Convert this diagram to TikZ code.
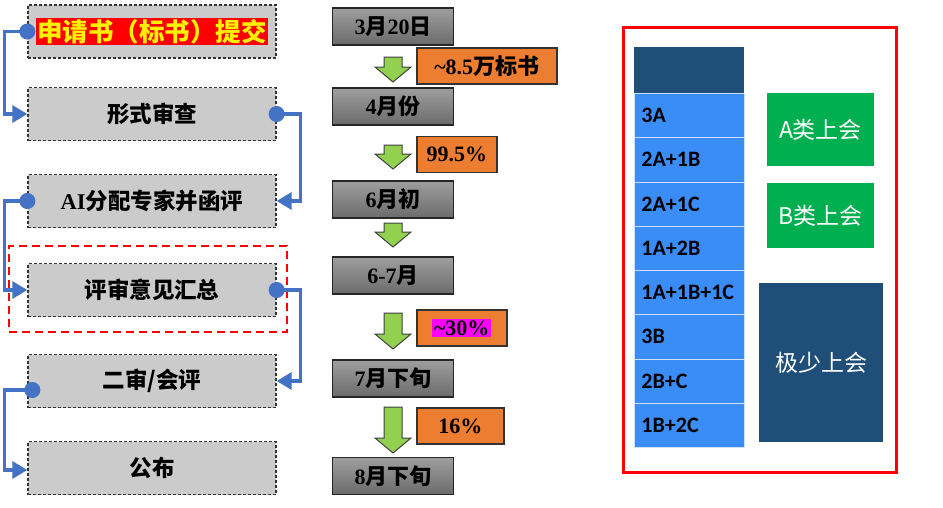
\documentclass[tikz,border=0pt]{standalone}
\usepackage{fontspec}
\setmainfont{Liberation Serif}
\newfontfamily\cjk{Noto Sans CJK SC}
\newfontfamily\calib{Carlito}
\usetikzlibrary{arrows.meta}
\definecolor{linkblue}{HTML}{4472C4}
\definecolor{stagegray}{HTML}{CBCBCB}
\definecolor{ratioorange}{HTML}{ED7D31}
\definecolor{arrowgreen}{HTML}{92D050}
\definecolor{cellblue}{HTML}{3A8CF6}
\definecolor{headblue}{HTML}{1F4E79}
\definecolor{meetgreen}{HTML}{00B050}
\definecolor{hlmagenta}{HTML}{FF00FF}
\newcommand\zh[1]{{\cjk #1}}
\newcommand\flowarrow[2]{%
  \draw [flow_arrow] (384,#1) -- (402,#1) -- (402,#2-15) -- (411,#2-15)
    -- (393,#2) -- (375,#2-15) -- (384,#2-15) -- cycle;}
\tikzset{
  stage_node/.style = {draw=black!80, fill=stagegray, line width=1.3pt,
    dash pattern=on 3pt off 2pt, minimum width=248, minimum height=53,
    font=\cjk\bfseries\fontsize{22.5}{26}\selectfont},% etapes a gauche
  title_hl/.style = {fill=red, text=yellow, inner sep=1pt,
    font=\cjk\bfseries\fontsize{25.5}{28}\selectfont},% titre surligne
  focus_frame/.style = {draw=red, line width=2.5pt, dash pattern=on 8pt off 5pt},
  link/.style = {draw=linkblue, line width=3.5pt, shorten <=-8pt,
    {Circle[length=16pt]}-{Triangle[length=15pt,width=17pt]}},% liaisons bleues
  date_node/.style = {draw=black!85, line width=1.3pt, top color=black!38,
    bottom color=black!58, minimum width=121, minimum height=37,
    font=\bfseries\fontsize{22}{26}\selectfont},% dates
  ratio_node/.style = {draw=black!80, fill=ratioorange, line width=1.5pt,
    anchor=west, minimum height=36, font=\bfseries\fontsize{22}{26}\selectfont},% taux
  flow_arrow/.style = {draw=black!75, fill=arrowgreen, line width=1pt, line join=miter},
  panel_frame/.style = {draw=red, line width=3pt},
  head_cell/.style = {fill=headblue, anchor=north west, minimum width=110,
    minimum height=46},
  combo_cell/.style = {fill=cellblue, draw=white!75!cellblue, line width=0.8pt,
    anchor=north west, minimum height=44.25, text width=96, inner xsep=7pt,
    align=left, font=\calib\bfseries\fontsize{22}{24}\selectfont},% combinaisons
  meet_node/.style = {text=white, font=\cjk\fontsize{23}{26}\selectfont}
}
\begin{document}
\begin{tikzpicture}[x=1pt, y=-1pt]
  \useasboundingbox (0,0) rectangle (943,507);
  % etapes
  \node [stage_node] (submit) at (152,31.5) {};
  \node [title_hl] (submit_text) at (submit) {申请书（标书）提交};
  \node [stage_node] (formal) at (152,114) {形式审查};
  \node [stage_node] (assign) at (152,201) {{\rmfamily AI}分配专家并函评};
  \node [stage_node] (summary) at (152,290) {评审意见汇总};
  \node [stage_node] (second) at (152,381) {二审/会评};
  \node [stage_node] (publish) at (152,468) {公布};
  \node [focus_frame, minimum width=278, minimum height=86] (focus) at (148,289) {};
  \draw [link] (submit.west) -- ++(-23,0) |- (formal.west);
  \draw [link] (formal.east) -- ++(24,0) |- (assign.east);
  \draw [link] (assign.west) -- ++(-23,0) |- (summary.west);
  \draw [link] (summary.east) -- ++(24,0) |- (second.east);
  \draw [link] ([xshift=5pt,yshift=-9pt]second.west) -- ++(-28,0)
    |- ([yshift=-2pt]publish.west);
  % dates
  \node [date_node] (d_mar) at (393,26.5) {3\zh{月}20\zh{日}};
  \node [date_node] (d_apr) at (393,106.5) {4\zh{月份}};
  \node [date_node] (d_jun) at (393,199.5) {6\zh{月初}};
  \node [date_node] (d_junjul) at (393,275.5) {6-7\zh{月}};
  \node [date_node] (d_jul) at (393,378.5) {7\zh{月下旬}};
  \node [date_node] (d_aug) at (393,476) {8\zh{月下旬}};
  \flowarrow{57}{82}
  \flowarrow{145}{169}
  \flowarrow{223}{247}
  \flowarrow{313}{349}
  \flowarrow{407}{453}
  \node [ratio_node, minimum width=140] (r_count) at (416,66) {\textasciitilde8.5\zh{万标书}};
  \node [ratio_node, minimum width=80] (r_form) at (416,154.5) {99.5\%};
  \node [ratio_node, minimum width=90] (r_second) at (416,328)
    {\fboxsep=2pt\colorbox{hlmagenta}{\textasciitilde30\%}};
  \node [ratio_node, minimum width=87] (r_final) at (416,426) {16\%};
  % tableau a droite
  \node [panel_frame, minimum width=273, minimum height=445] (panel) at (759.5,249.5) {};
  \node [head_cell] (head) at (634,47) {};
  \foreach \combo [count=\i] in {3A,2A+1B,2A+1C,1A+2B,1A+1B+1C,3B,2B+C,1B+2C}
    \node [combo_cell] (combo\i) at (634,{93+44.25*(\i-1)}) {\combo};
  \node [meet_node, fill=meetgreen, minimum width=107, minimum height=73] (class_a)
    at (820.5,129.5) {A类上会};
  \node [meet_node, fill=meetgreen, minimum width=107, minimum height=65] (class_b)
    at (820.5,215.5) {B类上会};
  \node [meet_node, fill=headblue, minimum width=124, minimum height=159] (rare)
    at (821,362.5) {极少上会};
\end{tikzpicture}
\end{document}
